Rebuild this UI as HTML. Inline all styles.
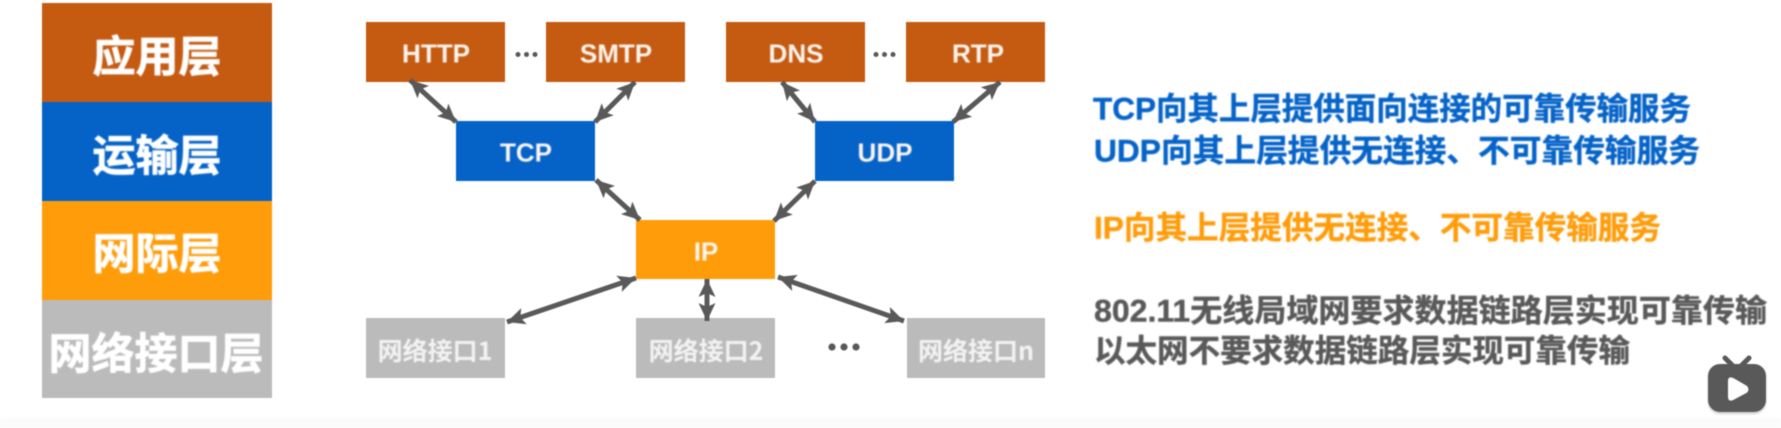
<!DOCTYPE html>
<html><head><meta charset="utf-8">
<style>
html,body{margin:0;padding:0;background:#fff;width:1781px;height:428px;overflow:hidden}
svg{display:block;filter:blur(0.5px)}
text{font-family:"Liberation Sans","Noto Sans CJK SC",sans-serif;font-weight:700;filter:blur(0.4px)}
.c{text-anchor:middle;dominant-baseline:central;fill:#fff}
.s{font-family:"Noto Sans CJK SC","Liberation Sans",sans-serif;font-size:43px;stroke:#fff;stroke-width:.7px}
.b{font-size:26px;fill:#fbf5ef}
.g{font-family:"Noto Sans CJK SC","Liberation Sans",sans-serif;font-size:25px;fill:#f3f3f3;font-weight:700}
.r{font-size:31.5px;font-family:"Liberation Sans","Noto Sans CJK SC",sans-serif;dominant-baseline:central;stroke-width:.4px}
line{stroke:#595959;stroke-width:5}
</style></head><body>
<svg width="1781" height="428" viewBox="0 0 1781 428" xmlns="http://www.w3.org/2000/svg">
<defs>
<marker id="a" markerUnits="userSpaceOnUse" markerWidth="20" markerHeight="20" refX="18" refY="10" orient="auto-start-reverse">
<path d="M0 1.5 L18 10 L0 18.5 L4 10 Z" fill="#595959"/>
</marker>
<filter id="sh" x="-10%" y="-10%" width="120%" height="120%"><feGaussianBlur stdDeviation="1"/></filter>
</defs>
<rect x="0" y="418" width="1781" height="10" fill="#fbfbfb"/>
<!-- layer stack -->
<rect x="42" y="3" width="230" height="99" fill="#C55A11"/>
<rect x="42" y="102" width="230" height="99" fill="#0563C8"/>
<rect x="42" y="201" width="230" height="99" fill="#FF9C0A"/>
<rect x="42" y="300" width="230" height="98" fill="#BBBBBB"/>
<text class="c s" x="157" y="54">应用层</text>
<text class="c s" x="157" y="153">运输层</text>
<text class="c s" x="157" y="251">网际层</text>
<text class="c s" x="156" y="351">网络接口层</text>
<!-- boxes -->
<rect x="366" y="22" width="139" height="60" fill="#C55A11"/>
<rect x="546" y="22" width="139" height="60" fill="#C55A11"/>
<rect x="726" y="22" width="139" height="60" fill="#C55A11"/>
<rect x="906" y="22" width="139" height="60" fill="#C55A11"/>
<rect x="456" y="121" width="139" height="60" fill="#0563C8"/>
<rect x="815" y="121" width="139" height="60" fill="#0563C8"/>
<rect x="636" y="220" width="139" height="59" fill="#FF9C0A"/>
<rect x="366" y="318" width="139" height="60" fill="#BBBBBB"/>
<rect x="636" y="318" width="139" height="60" fill="#BBBBBB"/>
<rect x="907" y="318" width="138" height="60" fill="#BBBBBB"/>
<text class="c b" x="436" y="53.5">HTTP</text>
<text class="c b" x="616" y="53.5">SMTP</text>
<text class="c b" x="796" y="53.5">DNS</text>
<text class="c b" x="978" y="53.5">RTP</text>
<text class="c b" x="526" y="152.5">TCP</text>
<text class="c b" x="885" y="152.5">UDP</text>
<text class="c b" x="706" y="251.5">IP</text>
<text class="c g" x="435" y="350">网络接口1</text>
<text class="c g" x="706" y="350">网络接口2</text>
<text class="c g" x="976" y="350">网络接口n</text>
<!-- dots -->
<g fill="#595959">
<circle cx="518" cy="54.5" r="2.5"/><circle cx="526.5" cy="54.5" r="2.5"/><circle cx="535" cy="54.5" r="2.5"/>
<circle cx="876" cy="54.5" r="2.5"/><circle cx="884.5" cy="54.5" r="2.5"/><circle cx="893" cy="54.5" r="2.5"/>
<circle cx="832" cy="347" r="3.6"/><circle cx="844" cy="347" r="3.6"/><circle cx="856" cy="347" r="3.6"/>
</g>
<!-- arrows -->
<line x1="410" y1="80" x2="456" y2="122" marker-start="url(#a)" marker-end="url(#a)"/>
<line x1="635" y1="82" x2="595" y2="122" marker-start="url(#a)" marker-end="url(#a)"/>
<line x1="782" y1="82" x2="815" y2="122" marker-start="url(#a)" marker-end="url(#a)"/>
<line x1="1000" y1="82" x2="953" y2="122" marker-start="url(#a)" marker-end="url(#a)"/>
<line x1="596" y1="180" x2="640" y2="220" marker-start="url(#a)" marker-end="url(#a)"/>
<line x1="815" y1="181" x2="774" y2="221" marker-start="url(#a)" marker-end="url(#a)"/>
<line x1="636" y1="278" x2="507" y2="322" marker-start="url(#a)" marker-end="url(#a)"/>
<line x1="707" y1="279" x2="707" y2="321" marker-start="url(#a)" marker-end="url(#a)"/>
<line x1="778" y1="277" x2="904" y2="321" marker-start="url(#a)" marker-end="url(#a)"/>
<!-- right text -->
<text class="r" x="1093" y="108.5" fill="#0563C8" stroke="#0563C8" textLength="598" lengthAdjust="spacingAndGlyphs">TCP向其上层提供面向连接的可靠传输服务</text>
<text class="r" x="1094" y="150.5" fill="#0563C8" stroke="#0563C8" textLength="606" lengthAdjust="spacingAndGlyphs">UDP向其上层提供无连接、不可靠传输服务</text>
<text class="r" x="1094" y="227.5" fill="#FF9C0A" stroke="#FF9C0A" textLength="567" lengthAdjust="spacingAndGlyphs">IP向其上层提供无连接、不可靠传输服务</text>
<text class="r" x="1094" y="310.5" fill="#595959" stroke="#595959" textLength="673" lengthAdjust="spacingAndGlyphs">802.11无线局域网要求数据链路层实现可靠传输</text>
<text class="r" x="1094" y="350.5" fill="#595959" stroke="#595959" textLength="536" lengthAdjust="spacingAndGlyphs">以太网不要求数据链路层实现可靠传输</text>
<!-- logo -->
<rect x="1708" y="366" width="58" height="48" rx="12" fill="#000" opacity=".18" filter="url(#sh)"/>
<g fill="#595959" stroke="#595959">
<rect x="1708" y="364" width="58" height="48" rx="12" stroke="none"/>
<path d="M1725 358 L1733 366 M1749 358 L1741 366" stroke-width="5" stroke-linecap="round" fill="none"/>
</g>
<path d="M1729 381 Q1729 377 1733 379 L1746 386.5 Q1749 389.5 1746 392 L1733 399 Q1729 401 1729 397 Z" fill="#fff" stroke="#fff" stroke-width="2"/>
</svg>
</body></html>
